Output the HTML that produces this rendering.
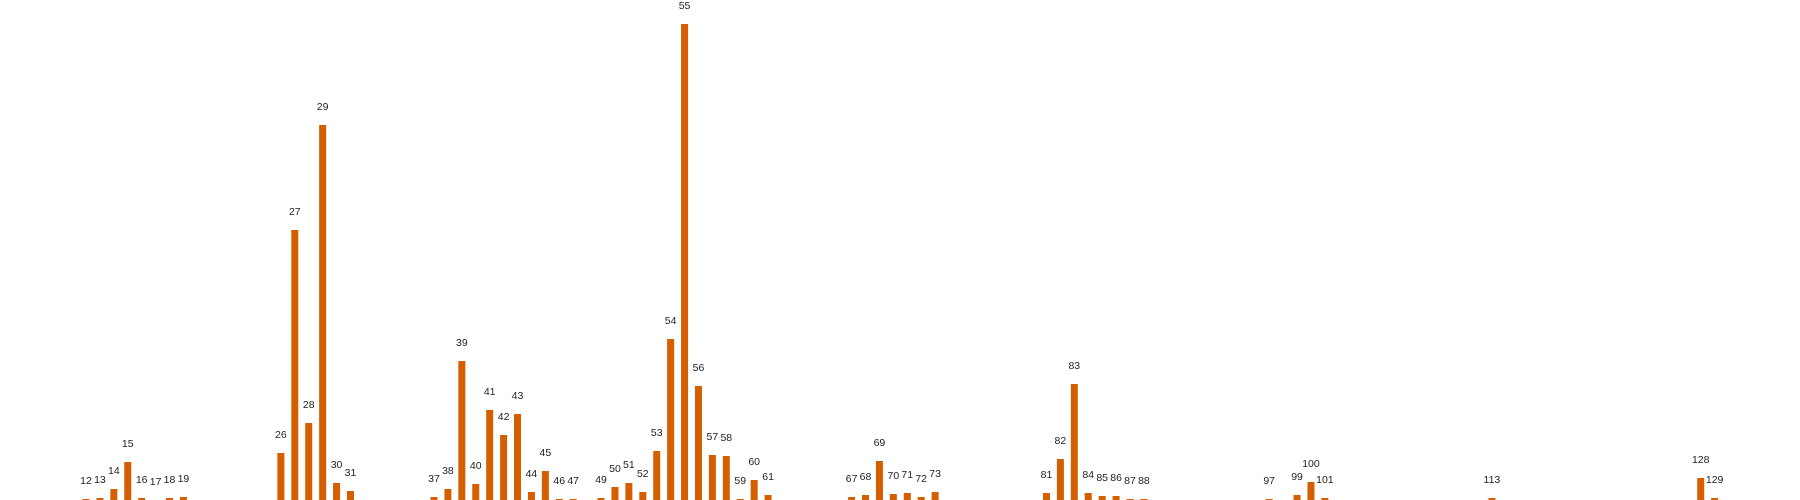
<!DOCTYPE html>
<html><head><meta charset="utf-8"><style>
html,body{margin:0;padding:0;background:#fff;}
svg{display:block;}
text{font-family:"Liberation Sans",sans-serif;font-size:10.5px;fill:#222;}
</style></head><body>
<svg id="chart" width="1800" height="500"></svg>
<script>
const categories=[12,13,14,15,16,17,18,19,26,27,28,29,30,31,37,38,39,40,41,42,43,44,45,46,47,49,50,51,52,53,54,55,56,57,58,59,60,61,67,68,69,70,71,72,73,81,82,83,84,85,86,87,88,97,99,100,101,113,128,129];
const values=[1,2,11,38,2,0,2,3,47,270,77,375,17,9,3,11,139,16,90,65,86,8,29,1,1,2,13,17,8,49,161,476,114,45,44,1,20,5,3,5,39,6,7,3,8,7,41,116,7,4,4,1,1,1,5,18,2,2,22,2];
const svg=document.getElementById('chart');
const NS='http://www.w3.org/2000/svg';
function xScale(c){return 86+(c-12)*13.92;}
function yScale(v){return 500-v;}
const bw=7;
for(let i=0;i<categories.length;i++){
  const c=categories[i],v=values[i];
  const r=document.createElementNS(NS,'rect');
  r.setAttribute('x',xScale(c)-bw/2);
  r.setAttribute('y',yScale(v));
  r.setAttribute('width',bw);
  r.setAttribute('height',v);
  r.setAttribute('fill','#d55e00');
  
  
  svg.appendChild(r);
  const t=document.createElementNS(NS,'text');
  t.setAttribute('x',xScale(c));
  t.setAttribute('y',yScale(v)-15);
  t.setAttribute('text-anchor','middle');
  t.textContent=c;
  
  
  svg.appendChild(t);
}
</script>
</body></html>
